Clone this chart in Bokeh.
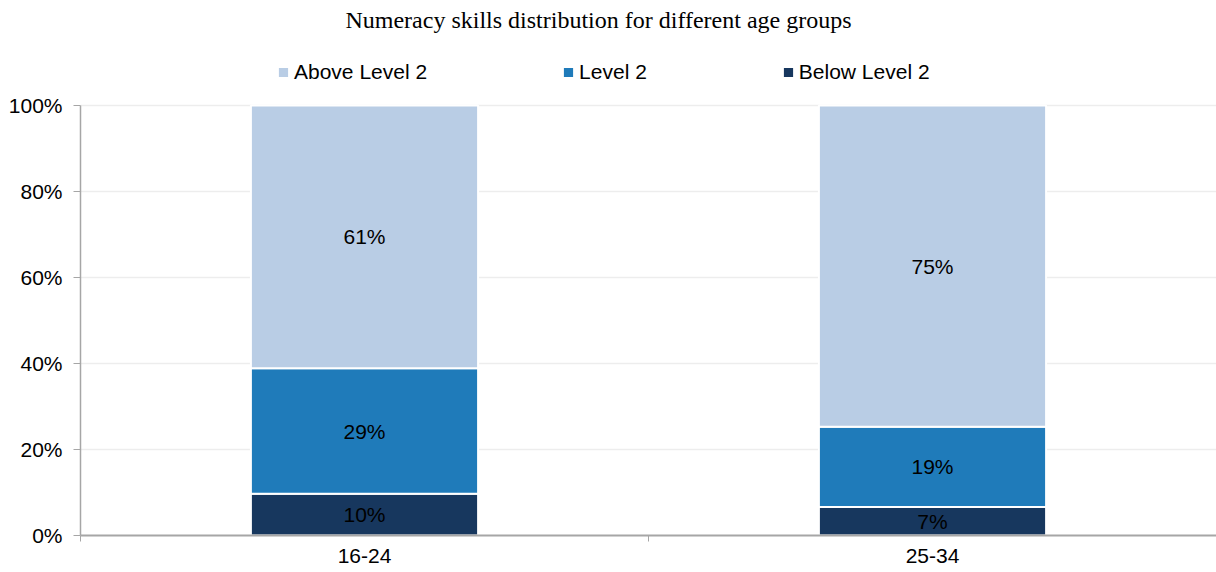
from bokeh.plotting import figure
from bokeh.models import (ColumnDataSource, FixedTicker, PrintfTickFormatter, Legend,
                          LegendItem, Label, LabelSet)
from bokeh.core.properties import value
from bokeh.embed import file_html
from bokeh.resources import INLINE

categories = ["16-24", "25-34"]
series = ["Below Level 2", "Level 2", "Above Level 2"]
below = [9.7, 6.6]
level2 = [29.2, 18.7]
above = [61.1, 74.7]
colors = ["#17375E", "#1F7BBA", "#B9CDE5"]
yticks = [0, 20, 40, 60, 80, 100]
title_text = "Numeracy skills distribution for different age groups"

x = [i + 0.5 for i in range(len(categories))]
src = ColumnDataSource(dict(x=x, below=below, level2=level2, above=above))

FRAME_H = 535
y_top = 100 * FRAME_H / 430.0

p = figure(width=1216, height=572, x_range=(0, len(categories)), y_range=(0, y_top),
           output_backend="svg", toolbar_location=None,
           min_border_left=80, min_border_right=0, min_border_top=0, min_border_bottom=37)
p.outline_line_color = None

renderers = p.vbar_stack(["below", "level2", "above"], x="x", width=0.4, source=src,
                         color=colors, line_color="white", line_width=2)

# segment labels
lab_x, lab_y, lab_t = [], [], []
for i, xi in enumerate(x):
    base = 0
    for vals in (below, level2, above):
        v = vals[i]
        lab_x.append(xi)
        lab_y.append(base + v / 2)
        lab_t.append(f"{v:.0f}%")
        base += v
lsrc = ColumnDataSource(dict(x=lab_x, y=lab_y, t=lab_t))
p.add_layout(LabelSet(x="x", y="y", text="t", source=lsrc, text_align="center",
                      text_baseline="middle", text_font=value("Liberation Sans"),
                      text_font_size=value("21px"), text_color=value("#000000")))

# axes
p.xaxis.ticker = FixedTicker(ticks=x, minor_ticks=[0, 1, 2])
p.xaxis.major_label_overrides = {xi: c for xi, c in zip(x, categories)}
p.xaxis.major_tick_line_color = None
p.xaxis.minor_tick_in = 0
p.xaxis.minor_tick_out = 6
p.xaxis.minor_tick_line_color = "#A6A6A6"
p.xaxis.axis_line_color = "#A6A6A6"
p.xaxis.axis_line_width = 2
p.xaxis.major_label_text_font = "Liberation Sans"
p.xaxis.major_label_text_font_size = "21px"
p.xaxis.major_label_text_color = "#000000"
p.xaxis.major_label_standoff = 7

p.yaxis.ticker = FixedTicker(ticks=yticks, minor_ticks=[])
p.yaxis.bounds = (0, 100)
p.yaxis.formatter = PrintfTickFormatter(format="%d%%")
p.yaxis.major_tick_in = 0
p.yaxis.major_tick_out = 7
p.yaxis.major_tick_line_color = "#A6A6A6"
p.yaxis.axis_line_color = "#A6A6A6"
p.yaxis.axis_line_width = 1.5
p.yaxis.major_label_text_font = "Liberation Sans"
p.yaxis.major_label_text_font_size = "21px"
p.yaxis.major_label_text_color = "#000000"
p.yaxis.major_label_standoff = 11

p.xgrid.grid_line_color = None
p.ygrid.grid_line_color = "#EDEDED"
p.ygrid.grid_line_width = 1.5

legend = Legend(items=[LegendItem(label=series[k], renderers=[renderers[k]]) for k in (2, 1, 0)],
                orientation="horizontal", location=(196, 451), border_line_color=None,
                background_fill_alpha=0, label_text_font="Liberation Sans",
                label_text_font_size="21px", label_text_color="#000000",
                glyph_width=14, glyph_height=14, spacing=134, label_standoff=4,
                padding=0, margin=0)
p.add_layout(legend, "center")

p.add_layout(Label(x=0.912, y=119.8, text=title_text, text_align="center",
                   text_baseline="middle", text_font="Liberation Serif",
                   text_font_size="24px", text_color="#000000"))

open("out.html", "w").write(file_html(p, INLINE))
